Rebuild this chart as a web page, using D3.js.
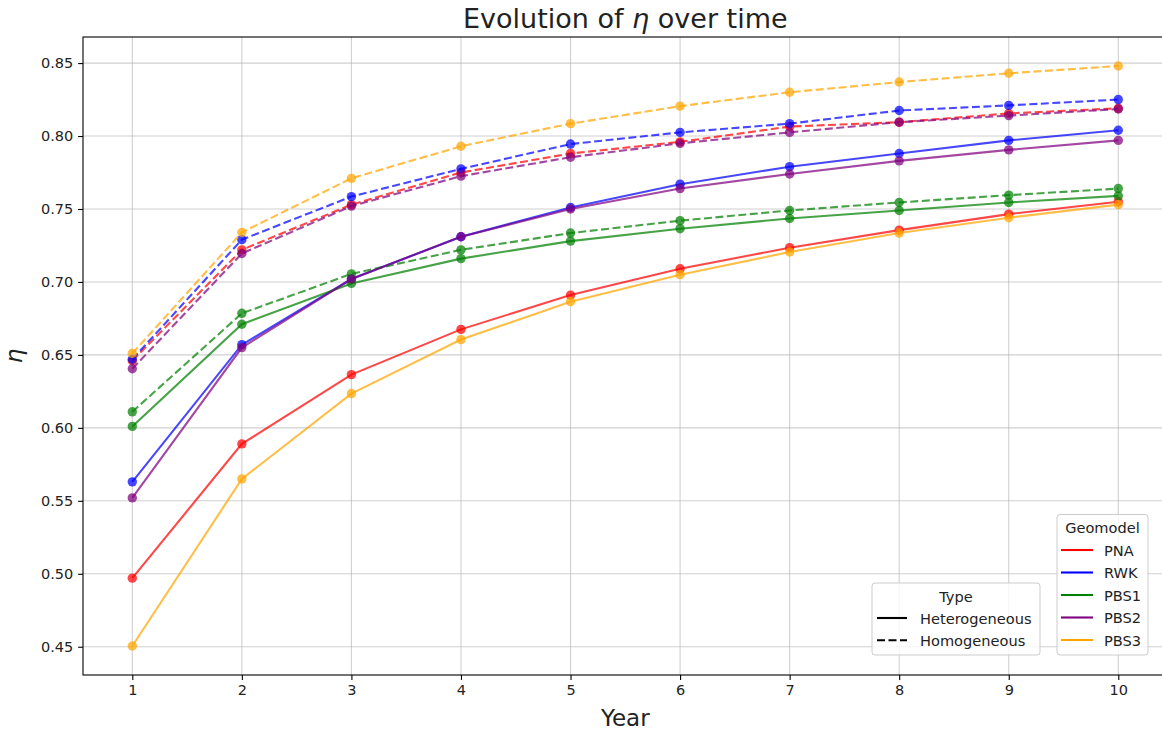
<!DOCTYPE html>
<html><head><meta charset="utf-8">
<script src="https://cdn.jsdelivr.net/npm/d3@7"></script>
<style>
html,body{margin:0;padding:0;background:#fff;overflow:hidden;}
text{font-family:"DejaVu Sans",sans-serif;fill:#222;}
</style></head>
<body><svg id="c" width="1162" height="733"></svg>
<script>
const years = [1,2,3,4,5,6,7,8,9,10];
const geomodels = ["PNA","RWK","PBS1","PBS2","PBS3"];
const geoColors = ["red","blue","green","purple","orange"];
const types = ["Heterogeneous","Homogeneous"];
const yTicks = [0.45,0.50,0.55,0.60,0.65,0.70,0.75,0.80,0.85];

const PNA_het  = [0.497, 0.589, 0.6365, 0.6675, 0.691, 0.709, 0.7235, 0.7355, 0.7465, 0.755];
const RWK_het  = [0.563, 0.657, 0.702, 0.731, 0.751, 0.767, 0.779, 0.788, 0.797, 0.804];
const PBS1_het = [0.601, 0.671, 0.699, 0.716, 0.728, 0.7365, 0.7435, 0.749, 0.7545, 0.759];
const PBS2_het = [0.552, 0.655, 0.702, 0.731, 0.750, 0.764, 0.774, 0.783, 0.7905, 0.797];
const PBS3_het = [0.4505, 0.565, 0.6235, 0.6605, 0.6865, 0.705, 0.7205, 0.7335, 0.744, 0.753];

const PNA_hom  = [0.646, 0.722, 0.753, 0.775, 0.788, 0.796, 0.8065, 0.8095, 0.8155, 0.819];
const RWK_hom  = [0.647, 0.729, 0.7585, 0.7775, 0.7945, 0.8025, 0.8085, 0.8175, 0.821, 0.825];
const PBS1_hom = [0.611, 0.6785, 0.7055, 0.722, 0.7335, 0.742, 0.749, 0.7545, 0.7595, 0.764];
const PBS2_hom = [0.6405, 0.7195, 0.752, 0.7725, 0.7855, 0.795, 0.8025, 0.8095, 0.814, 0.8185];
const PBS3_hom = [0.651, 0.734, 0.771, 0.793, 0.8085, 0.8205, 0.83, 0.837, 0.843, 0.848];

const hetSeries = [PNA_het, RWK_het, PBS1_het, PBS2_het, PBS3_het];
const homSeries = [PNA_hom, RWK_hom, PBS1_hom, PBS2_hom, PBS3_hom];

const svg = d3.select("#c");
const L = 83, R = 1167.6, T = 37, B = 675;

const allVals = hetSeries.concat(homSeries).flat();
const [ymin, ymax] = d3.extent(allVals);
const pad = (ymax - ymin) * 0.05;
const x = d3.scaleLinear().domain([0.55, 10.45]).range([L, R]);
const y = d3.scaleLinear().domain([ymin - pad, ymax + pad]).range([B, T]);

// grid
const g = svg.append("g");
g.selectAll(".gx").data(years).enter().append("line")
  .attr("x1", d => x(d)).attr("x2", d => x(d)).attr("y1", T).attr("y2", B)
  .attr("stroke", "#b0b0b0").attr("stroke-opacity", 0.6).attr("stroke-width", 1.1);
g.selectAll(".gy").data(yTicks).enter().append("line")
  .attr("x1", L).attr("x2", R).attr("y1", d => y(d)).attr("y2", d => y(d))
  .attr("stroke", "#b0b0b0").attr("stroke-opacity", 0.6).attr("stroke-width", 1.1);

// lines
const line = d3.line().x((d, i) => x(years[i])).y(d => y(d));
geomodels.forEach((gm, gi) => {
  [hetSeries[gi], homSeries[gi]].forEach((vals, ti) => {
    const sg = svg.append("g");
    sg.append("path").datum(vals).attr("d", line)
      .attr("fill", "none").attr("stroke", geoColors[gi]).attr("stroke-opacity", 0.72)
      .attr("stroke-width", 2.1)
      .attr("stroke-dasharray", ti === 1 ? "8,3.5" : null);
    sg.selectAll("circle").data(vals).enter().append("circle")
      .attr("cx", (d, i) => x(years[i])).attr("cy", d => y(d)).attr("r", 4.7)
      .attr("fill", geoColors[gi]).attr("fill-opacity", 0.72);
  });
});

// axes
const xAxis = d3.axisBottom(x).tickValues(years).tickSize(4.9).tickPadding(4.9).tickFormat(d3.format("d"));
const yAxis = d3.axisLeft(y).tickValues(yTicks).tickSize(4.9).tickPadding(4.9).tickFormat(d3.format(".2f"));
const xa = svg.append("g").attr("transform", `translate(0,${B})`).call(xAxis);
const ya = svg.append("g").attr("transform", `translate(${L},0)`).call(yAxis);
[xa, ya].forEach(a => {
  a.select(".domain").remove();
  a.selectAll("line").attr("stroke", "#000").attr("stroke-width", 1.1);
  a.selectAll("text").attr("font-size", "14.5px").attr("font-family", "DejaVu Sans").attr("fill", "#222");
});
// spines
svg.append("rect").attr("x", L).attr("y", T).attr("width", R - L).attr("height", B - T)
  .attr("fill", "none").attr("stroke", "#000").attr("stroke-width", 1.1);

// titles
const title = svg.append("text").attr("x", (L + R) / 2).attr("y", 28).attr("text-anchor", "middle")
  .attr("font-size", "27px");
title.append("tspan").text("Evolution of ");
title.append("tspan").attr("font-style", "italic").text("η");
title.append("tspan").text(" over time");
svg.append("text").attr("x", (L + R) / 2).attr("y", 726).attr("text-anchor", "middle")
  .attr("font-size", "23px").text("Year");
svg.append("text").attr("transform", `translate(22,${(T + B) / 2}) rotate(-90)`).attr("text-anchor", "middle")
  .attr("font-size", "23px").attr("font-style", "italic").text("η");

// legends
function legend(x0, y0, w, h, title, titleY, items) {
  const lg = svg.append("g");
  lg.append("rect").attr("x", x0).attr("y", y0).attr("width", w).attr("height", h).attr("rx", 3)
    .attr("fill", "#fff").attr("fill-opacity", 0.8).attr("stroke", "#cccccc").attr("stroke-width", 1);
  lg.append("text").attr("x", x0 + w / 2).attr("y", titleY).attr("text-anchor", "middle")
    .attr("dominant-baseline", "central").attr("font-size", "14.6px").text(title);
  items.forEach(it => {
    lg.append("line").attr("x1", it.x1).attr("x2", it.x2).attr("y1", it.y).attr("y2", it.y)
      .attr("stroke", it.color).attr("stroke-width", 2.1).attr("stroke-dasharray", it.dash);
    lg.append("text").attr("x", it.tx).attr("y", it.y).attr("dominant-baseline", "central")
      .attr("font-size", "14.6px").text(it.label);
  });
}
legend(872, 583, 168, 72, "Type", 596, types.map((t, i) => ({
  x1: 877, x2: 907, y: 618 + i * 22.3, tx: 920, label: t, color: "#000", dash: i === 1 ? "8,3.5" : null })));
legend(1057, 514.5, 91, 140.5, "Geomodel", 527, geomodels.map((gm, i) => ({
  x1: 1061, x2: 1093, y: 550 + i * 22.5, tx: 1104, label: gm, color: geoColors[i], dash: null })));
</script></body></html>
